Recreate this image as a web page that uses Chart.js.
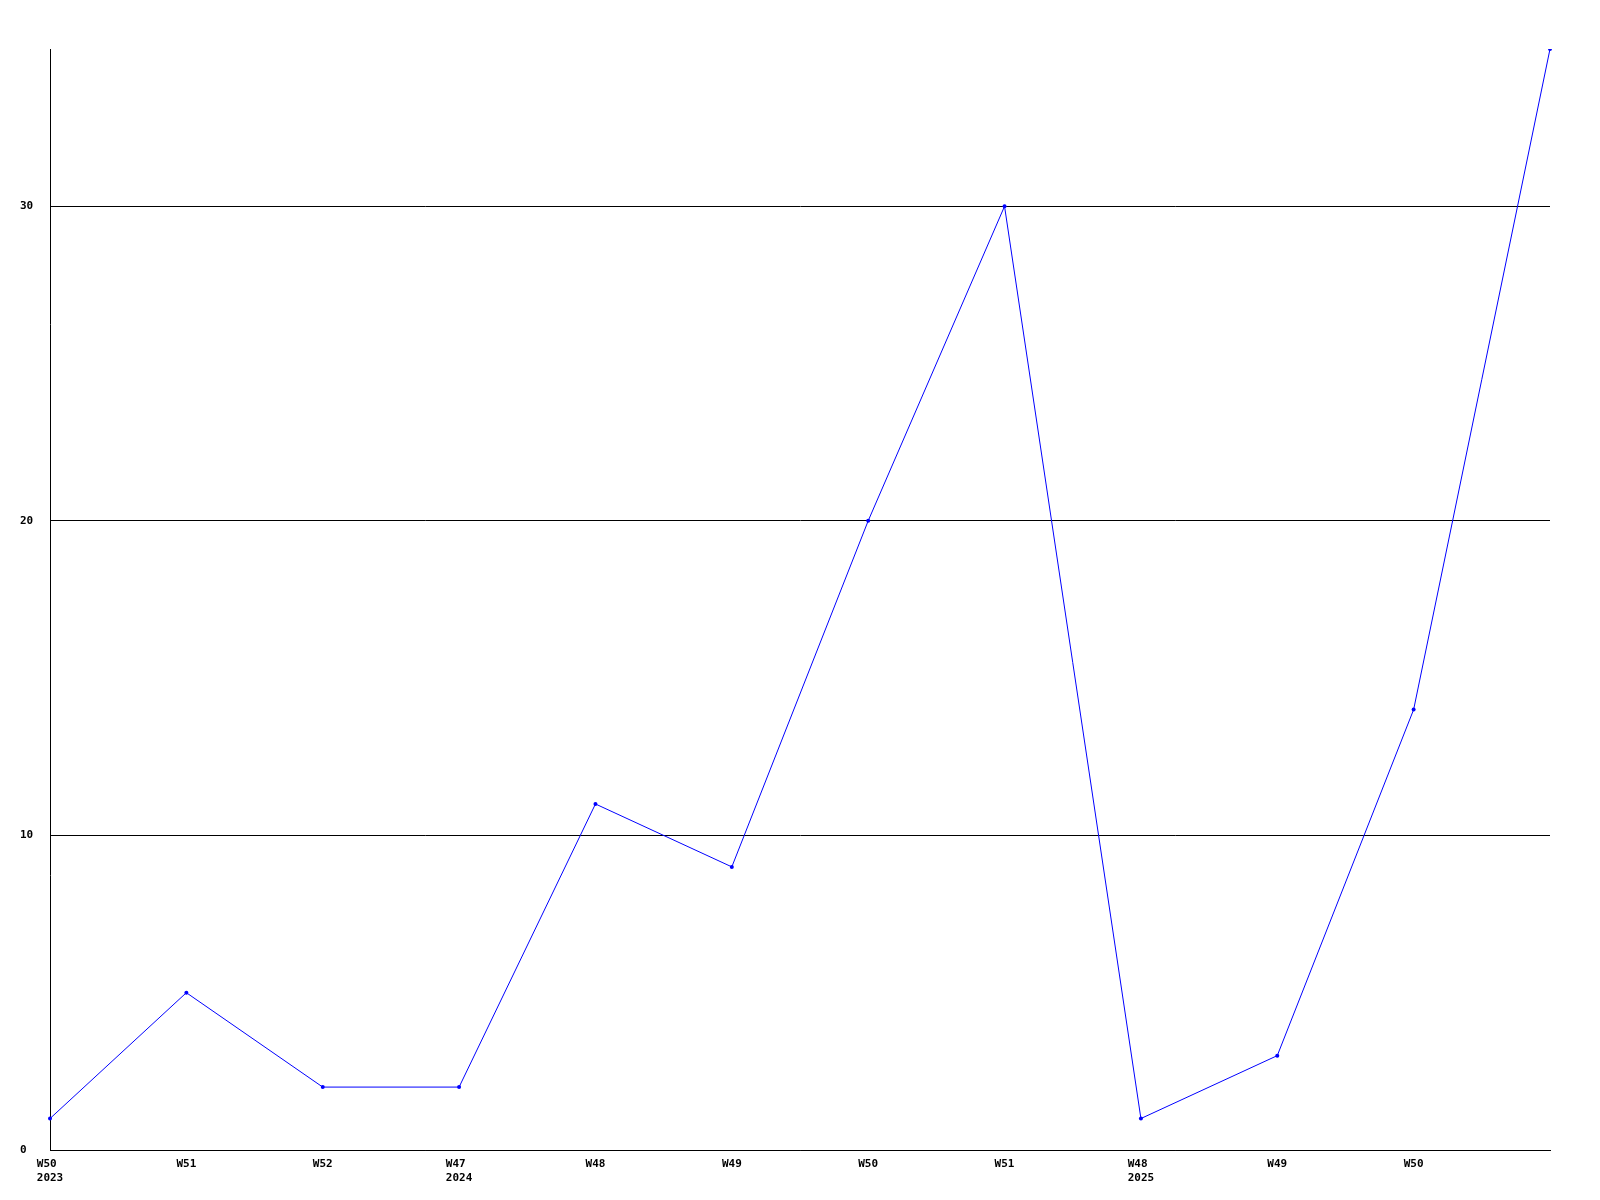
<!DOCTYPE html>
<html>
<head>
<meta charset="utf-8">
<script src="https://cdn.jsdelivr.net/npm/chart.js@4/dist/chart.umd.min.js"></script>
<style>
  html, body { margin: 0; padding: 0; background: #fff; }
  #wrap { width: 1600px; height: 1200px; }
</style>
</head>
<body>
<div id="wrap"><canvas id="weekChart" width="1600" height="1200"></canvas></div>
<script>
// weeks on the x axis, year shown under the first week of each year
var weeks = ['W50', 'W51', 'W52', 'W47', 'W48', 'W49', 'W50', 'W51', 'W48', 'W49', 'W50', 'W51']
var years = ['2023', '', '', '2024', '', '', '', '', '2025', '', '', '']
var counts = [1, 5, 2, 2, 11, 9, 20, 30, 1, 3, 14, 35]
var yTicks = [0, 10, 20, 30]

/* labels: two lines when a year starts, week line left aligned with the year */
var labels = weeks.map(function (w, i) {
  return years[i] ? [w.padEnd(years[i].length), years[i]] : w
})

var tickFont = { family: 'DejaVu Sans Mono', size: 11, weight: 'bold' }

const config = {
  type: 'line',
  data: {
    labels: labels,
    datasets: [{
      data: counts,
      borderColor: '#0000ff',
      backgroundColor: '#0000ff',
      borderWidth: 1,
      pointRadius: 2,
      pointHoverRadius: 2,
      pointBorderWidth: 0,
      tension: 0
    }]
  },
  options: {
    responsive: false,
    animation: false,
    layout: { padding: { top: 49, right: 50, left: 20, bottom: 0 } },
    plugins: { legend: { display: false }, tooltip: { enabled: false } },
    scales: {
      x: {
        grid: { display: false, drawTicks: false },
        border: { display: true, color: '#000', width: 1 },
        ticks: {
          color: '#000',
          font: tickFont,
          padding: 8,
          maxRotation: 0,
          autoSkip: false,
          // last week has no label in the original
          callback: function (v, i) { return i === weeks.length - 1 ? '' : this.getLabelForValue(v) }
        },
        afterFit: function (s) { s.height = 50 }
      },
      y: {
        min: 0,
        max: Math.max.apply(null, counts),
        grid: { color: '#000', lineWidth: 1, drawTicks: false },
        border: { display: true, color: '#000', width: 1 },
        ticks: {
          color: '#000',
          font: tickFont,
          crossAlign: 'far',
          padding: 16
        },
        afterBuildTicks: function (s) {
          s.ticks = yTicks.map(function (v) { return { value: v } })
        },
        afterFit: function (s) { s.width = 30 }
      }
    }
  }
}

const myChart = new Chart(document.getElementById('weekChart'), config)
</script>
</body>
</html>
